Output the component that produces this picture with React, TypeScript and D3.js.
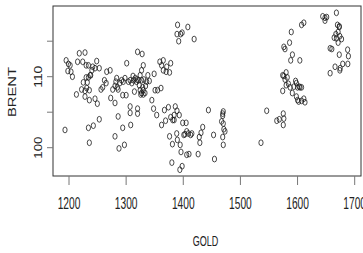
import React from "react";
import * as d3 from "d3";

const gold: number[] = [
  1193, 1195, 1199, 1202, 1198, 1203.5, 1206, 1218, 1228, 1215, 1224, 1230, 1234, 1248.5, 1253, 1245.5, 1240, 1237, 1234, 1230,
  1225, 1232, 1222, 1228, 1235.6, 1231, 1213, 1228, 1235.6, 1245.5, 1249.6, 1234, 1242.6, 1253, 1235.6, 1238, 1241.5,
  1256, 1259, 1262, 1266, 1272, 1265, 1273, 1280.5, 1276.5, 1280.5, 1283.5, 1284.6, 1286, 1282, 1289, 1292, 1295, 1298,
  1294, 1300, 1301, 1286, 1280.5, 1287.5, 1297, 1294,
  1304, 1307, 1310, 1313, 1316, 1319, 1322, 1318, 1312, 1314.5, 1307, 1307, 1308, 1320, 1320, 1320, 1328, 1330, 1327,
  1324.5, 1327, 1331, 1336, 1340.6, 1338, 1324.5, 1327, 1330, 1333, 1325.5, 1330, 1329, 1323, 1334, 1349, 1345, 1348,
  1353.5, 1350.6,
  1359, 1365, 1362, 1365, 1370, 1376, 1378, 1371, 1355, 1361, 1367, 1374, 1362, 1369, 1376, 1381, 1380, 1378, 1381.6,
  1384, 1386, 1389, 1393, 1388.5, 1389.6, 1384, 1394.6, 1396, 1398, 1394, 1399, 1401, 1403, 1406, 1410, 1405, 1406,
  1409, 1413, 1415, 1389, 1390, 1395.5, 1398, 1408, 1419, 1392,
  1426, 1428, 1429, 1431, 1434, 1444, 1453, 1454.6, 1467, 1469, 1469, 1470, 1470, 1471, 1469, 1470, 1473,
  1536, 1546,
  1563.6, 1568, 1575, 1576, 1575, 1574, 1574, 1576, 1580, 1582, 1578, 1580, 1584, 1587, 1590.8, 1593.6, 1596.5, 1598,
  1600, 1603, 1604.4, 1607, 1598, 1600, 1602, 1607, 1611, 1613, 1576, 1578, 1586, 1589, 1591, 1588, 1604, 1607, 1611,
  1644, 1648, 1651, 1648, 1668, 1669.8, 1673, 1671, 1667, 1664, 1668, 1674, 1677, 1671, 1657, 1660, 1673, 1687.6, 1689,
  1688, 1679, 1674.6, 1674, 1665.6, 1657, 1673,
];

const brent: number[] = [
  102.5, 112.3, 111.8, 111.6, 110.8, 110.7, 110, 113.3, 113.4, 112.1, 112.1, 111.6, 111.6, 112.2, 111.2, 111.2, 110.9, 110.2, 109.9, 109.9,
  109.2, 109.2, 108.2, 108, 108.1, 108.4, 107.5, 107.2, 106.7, 106.9, 106.2, 102.8, 103.1, 104, 100.7, 110.2, 111.4,
  108.2, 108.5, 109.5, 110.7, 110.9, 109.1, 107, 106.3, 108.2, 108.7, 109.8, 108.5, 108.2, 109.3, 109.1, 109.5, 109.3, 109.8,
  107.4, 107.4, 111.9, 104.4, 101.6, 99.9, 100.4, 102.8,
  109.3, 109.5, 109.1, 109.5, 109.8, 109.6, 109.5, 109.3, 110.1, 107.9, 105.8, 104.9, 103.2, 105.5, 104.8, 113.5, 113.2, 111.6, 110.9,
  110.2, 109.5, 109.6, 109.3, 109.4, 110.2, 108.1, 107.7, 108.1, 107.7, 107.5, 107.5, 108.5, 108.8, 108.7, 110.4, 106.7, 105.5,
  104.6, 108.1,
  112.1, 112.3, 111.6, 110.9, 110.7, 110.6, 111.9, 111.4, 108.1, 108.4, 105.3, 105.7, 103.2, 103.8, 101.6, 100.5, 97.9, 104.3, 103.9,
  104.6, 105.8, 105.2, 104.6, 102, 101.1, 103.9, 100.4, 99.4, 97.4, 96.9, 103.5, 101.8, 101.9, 99, 99.1, 103.5, 102.3,
  102, 101.8, 102, 116, 117.3, 116, 116.2, 117, 115.3, 115,
  99.1, 101.5, 100.7, 102.1, 102.9, 105.3, 101.8, 98.4, 103.7, 104.8, 104.5, 105.1, 103.4, 102.6, 101.5, 100.4, 102.3,
  100.7, 105.2,
  103.8, 104, 104.8, 104.1, 103.2, 108, 110.2, 110.1, 110.6, 109.9, 109.6, 108.8, 109, 108.5, 107.7, 108.6, 109.4, 109.1,
  108.5, 108.6, 108.5, 108.5, 107.2, 106.7, 106.5, 106.6, 106.9, 106.4, 114.2, 113.9, 114.8, 116.3, 113.1, 112.3, 112.3, 117.3, 117.6,
  118.5, 118.3, 118.4, 117.9, 119, 117.3, 117, 116.3, 116, 115.5, 115.4, 115.7, 115.3, 114.8, 114, 113.9, 113.1, 113.8, 112.9,
  111.8, 111.8, 111.2, 110.9, 111.4, 110.5, 117.1,
];

const xTicks: number[] = [1200, 1300, 1400, 1500, 1600, 1700];
const yTicks: number[] = [100, 105, 110, 115];
const yTickLabels: number[] = [100, 110];
const xTitle = "GOLD";
const yTitle = "BRENT";

export default function App() {
  const W = 363, H = 253;
  const box = { left: 53, right: 361, top: 6, bottom: 176 };
  const x = d3.scaleLinear().domain([1200, 1700]).range([69, 354.7]);
  const y = d3.scaleLinear().domain([100, 110]).range([147.7, 76.7]);
  const font = "'Liberation Sans', Arial, sans-serif";
  return (
    <svg width={W} height={H} style={{ position: "fixed", left: 0, top: 0, background: "#fff" }}>
      <rect x={box.left} y={box.top} width={box.right - box.left} height={box.bottom - box.top}
        fill="none" stroke="#333" strokeWidth={1} />
      {xTicks.map((t) => (
        <line key={"xt" + t} x1={x(t)} x2={x(t)} y1={box.bottom} y2={box.bottom + 9} stroke="#777" strokeWidth={1} />
      ))}
      {yTicks.map((t) => (
        <line key={"yt" + t} x1={box.left - 6} x2={box.left} y1={y(t)} y2={y(t)} stroke="#777" strokeWidth={1} />
      ))}
      {xTicks.map((t) => (
        <text key={"xl" + t} x={x(t)} y={209.3} textAnchor="middle" fontFamily={font} fontSize={16}
          textLength={22.7} lengthAdjust="spacingAndGlyphs" fill="#222">{t}</text>
      ))}
      {yTickLabels.map((t) => (
        <text key={"yl" + t} transform={`translate(42,${y(t)}) rotate(-90)`} textAnchor="middle"
          fontFamily={font} fontSize={11} textLength={22} lengthAdjust="spacingAndGlyphs" fill="#222">{t}</text>
      ))}
      <text x={205.5} y={245.7} textAnchor="middle" fontFamily={font} fontSize={15}
        textLength={25.6} lengthAdjust="spacingAndGlyphs" fill="#222">{xTitle}</text>
      <text transform={`translate(16,92) rotate(-90)`} textAnchor="middle" fontFamily={font} fontSize={11}
        textLength={50} lengthAdjust="spacingAndGlyphs" fill="#222">{yTitle}</text>
      {gold.map((g, i) => (
        <ellipse key={"p" + i} cx={x(g)} cy={y(brent[i])} rx={2.1} ry={2.9}
          fill="none" stroke="#1a1a1a" strokeWidth={0.8} />
      ))}
    </svg>
  );
}
